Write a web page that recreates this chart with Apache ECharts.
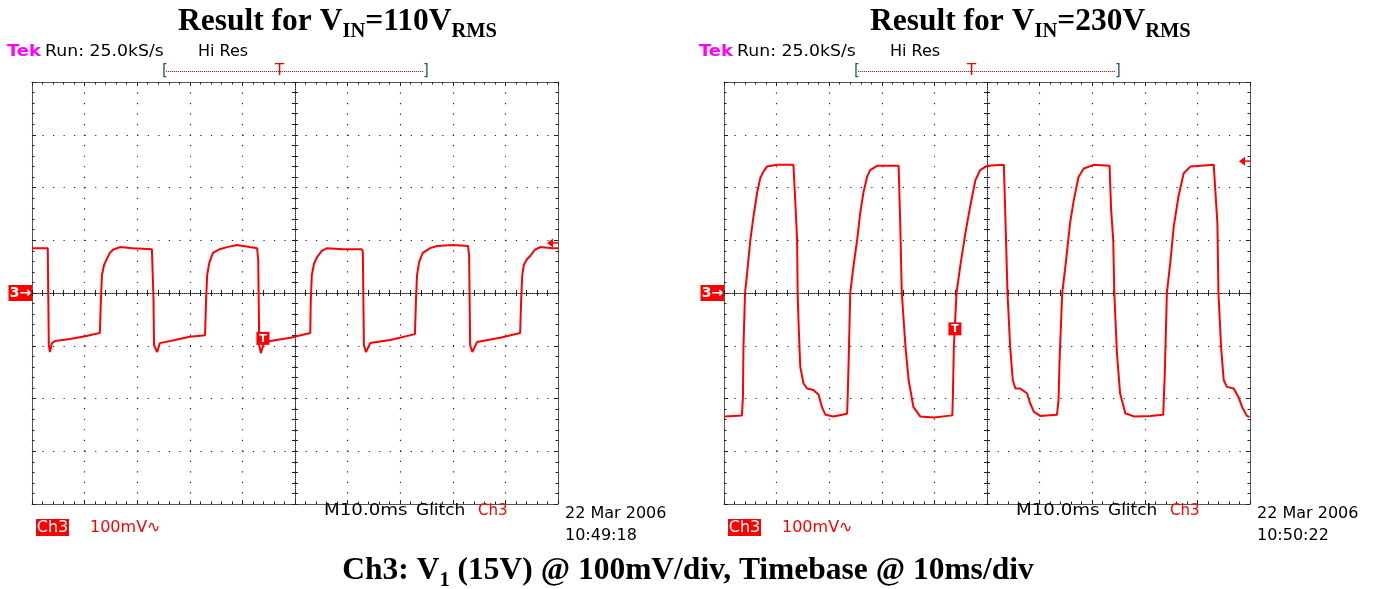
<!DOCTYPE html>
<html><head><meta charset="utf-8">
<script src="https://cdn.jsdelivr.net/npm/echarts@6/dist/echarts.min.js"></script>
<style>html,body{margin:0;padding:0;background:#fff}#c{width:1378px;height:589px}</style>
</head><body><div id="c"></div>
<script>
// ---- DATA (time in ms across the 10 divisions, Ch3 level in mV) ----
const wave110 = [[0,85],[3.0,85],[3.1,-13],[3.2,-99],[3.4,-112],[3.8,-95],[4.4,-91],[7.2,-87],[10.1,-82],[12.9,-76],
 [13.1,-13],[13.3,34],[13.7,53],[14.3,66],[14.8,76],[15.4,82],[16.7,87],[19.2,85],[22.8,83],[23.0,83],
 [23.1,-13],[23.2,-99],[23.8,-112],[24.3,-95],[27.2,-89],[30.0,-83],[32.9,-80],[33.1,-13],[33.3,34],[33.7,57],
 [34.4,76],[35.7,83],[37.1,87],[39.0,91],[41.4,87],[42.8,85],[43.0,63],[43.1,-13],[43.2,-99],[43.5,-114],
 [44.1,-95],[45.3,-91],[49.1,-85],[52.9,-76],[53.0,-13],[53.2,34],[53.6,55],[54.2,68],[55.1,80],[56.1,85],
 [59.1,83],[62.7,83],[62.9,78],[63.0,-13],[63.1,-99],[63.5,-112],[64.3,-95],[68.1,-89],[72.8,-78],[73.0,-13],
 [73.2,34],[73.6,59],[74.3,76],[75.7,85],[77.0,89],[80.0,91],[82.9,89],[83.1,72],[83.2,-13],[83.3,-99],
 [83.7,-112],[84.6,-93],[89.0,-85],[92.8,-76],[93.0,-13],[93.2,34],[93.5,53],[94.1,64],[94.7,70],[95.6,82],
 [96.6,87],[99.0,85],[100,85]];
const wave230 = [[0.1,-234],[3.4,-232],[3.6,-197],[3.7,-102],[4.0,0],[4.4,38],[5.0,100],[5.6,145],[6.3,190],[6.9,218],[7.5,230],[8.2,240],[10.1,243],[13.2,243],
 [13.6,164],[13.9,100],[14.0,0],[14.2,-64],[14.5,-140],[15.1,-171],[15.8,-181],[17.0,-184],[18.0,-193],[18.6,-216],[19.3,-231],[20.8,-234],[23.4,-229],
 [23.5,-203],[23.7,-127],[24.0,0],[24.6,50],[25.3,100],[25.9,152],[26.5,190],[27.2,220],[27.8,233],[29.1,241],[33.2,241],
 [33.5,133],[33.8,0],[34.5,-102],[35.1,-165],[36.0,-216],[37.3,-234],[39.9,-236],[43.4,-232],
 [43.5,-203],[43.7,-102],[44.2,0],[44.9,50],[45.9,114],[46.8,164],[47.8,214],[48.7,233],[50.0,241],[53.2,243],
 [53.4,176],[53.9,0],[54.4,-102],[54.9,-165],[55.4,-181],[56.3,-181],[57.6,-190],[58.2,-209],[58.9,-225],[60.1,-233],[63.3,-231],
 [63.6,-203],[63.8,-127],[64.3,0],[64.9,50],[65.8,133],[66.5,176],[67.4,220],[68.4,236],[70.3,243],[73.3,241],
 [73.6,157],[74.0,100],[74.2,0],[74.7,-114],[75.3,-190],[76.3,-228],[77.9,-234],[81.0,-233],[83.5,-231],
 [83.8,-152],[84.2,0],[84.9,63],[85.5,126],[86.4,183],[87.4,227],[88.7,240],[93.1,243],[93.4,241],
 [93.8,133],[94.0,0],[94.5,-102],[95.0,-165],[95.6,-178],[96.9,-181],[97.8,-197],[98.5,-216],[99.4,-233],[99.9,-235]];
const inputVoltages = ['110', '230'];
const dates = ['22 Mar 2006', '22 Mar 2006'];
const times = ['10:49:18', '10:50:22'];
const triggerLevels = [95, 250];          // mV, level arrow at right edge
const triggerPoints = [[43.9,-86],[43.9,-68]]; // T marker on the trace
const xRange = [0, 100], xStep = 10;      // 10 ms/div
const yRange = [-400, 400], yStep = 100;  // 100 mV/div
const captionText = ['Ch3: V', '1', ' (15V) @ 100mV/div, Timebase @ 10ms/div'];

// ---- LAYOUT ----
const GW = 526, GH = 422, GT = 82;
const gridLefts = [32, 724];
const RED = '#ff0000';
const DOT = '#222';
const MONO = '"DejaVu Sans", sans-serif';
const SERIF = '"Liberation Serif", "Times New Roman", serif';

function axisBase(gi, extra) {
  return Object.assign({
    type: 'value', gridIndex: gi, axisLabel: {show: false}, splitLine: {show: false},
    axisLine: {show: true, onZero: false, lineStyle: {color: '#555', width: 1}},
    axisTick: {show: true, inside: true, length: 4, lineStyle: {color: DOT}},
    minorTick: {show: true, splitNumber: 5, length: 2.5, lineStyle: {color: DOT}},
    silent: true
  }, extra);
}
const xAxes = [], yAxes = [], grids = [], series = [];
[wave110, wave230].forEach((wave, gi) => {
  grids.push({left: gridLefts[gi], top: GT, width: GW, height: GH, show: false});
  const xr = {min: xRange[0], max: xRange[1], interval: xStep};
  const yr = {min: yRange[0], max: yRange[1], interval: yStep};
  xAxes.push(
    axisBase(gi, Object.assign({position: 'bottom', splitLine: {show: true, lineStyle: {color: DOT, width: 1.2, type: [1.2, 9.32]}}}, xr)),
    axisBase(gi, Object.assign({position: 'top'}, xr)),
    axisBase(gi, Object.assign({position: 'bottom', offset: -GH / 2,
      axisLine: {show: true, onZero: false, lineStyle: {color: DOT, width: 1, type: [1, 1]}},
      axisTick: {show: true, inside: true, length: 3, lineStyle: {color: DOT}},
      minorTick: {show: true, splitNumber: 5, length: 3, lineStyle: {color: DOT}}}, xr)),
    axisBase(gi, Object.assign({position: 'bottom', offset: -GH / 2, axisLine: {show: false, onZero: false},
      axisTick: {show: true, inside: false, length: 3, lineStyle: {color: DOT}},
      minorTick: {show: true, splitNumber: 5, length: 3, lineStyle: {color: DOT}}}, xr))
  );
  yAxes.push(
    axisBase(gi, Object.assign({position: 'left', splitLine: {show: true, lineStyle: {color: DOT, width: 1.2, type: [1.2, 9.32]}}}, yr)),
    axisBase(gi, Object.assign({position: 'right'}, yr)),
    axisBase(gi, Object.assign({position: 'left', offset: -GW / 2,
      axisLine: {show: true, onZero: false, lineStyle: {color: DOT, width: 1, type: [1, 1]}},
      axisTick: {show: true, inside: true, length: 3, lineStyle: {color: DOT}},
      minorTick: {show: true, splitNumber: 5, length: 3, lineStyle: {color: DOT}}}, yr)),
    axisBase(gi, Object.assign({position: 'left', offset: -GW / 2, axisLine: {show: false, onZero: false},
      axisTick: {show: true, inside: false, length: 3, lineStyle: {color: DOT}},
      minorTick: {show: true, splitNumber: 5, length: 3, lineStyle: {color: DOT}}}, yr))
  );
  series.push({
    type: 'line', xAxisIndex: gi * 4, yAxisIndex: gi * 4, data: wave,
    showSymbol: false, symbol: 'none', animation: false, z: 10,
    lineStyle: {color: RED, width: 2}
  });
});

const chart = echarts.init(document.getElementById('c'), null, {renderer: 'canvas'});
chart.setOption({animation: false, backgroundColor: '#fff', grid: grids, xAxis: xAxes, yAxis: yAxes, series: series});

function px(gi, pt) {
  return chart.convertToPixel({xAxisIndex: gi * 4, yAxisIndex: gi * 4}, pt);
}
function txt(x, y, text, size, fill, sx, extra) {
  return Object.assign({type: 'text', x: x, y: y, z: 100, scaleX: sx || 1,
    style: {text: text, font: size + 'px ' + MONO, fill: fill, verticalAlign: 'middle'}}, extra || {});
}

const g = [];
gridLefts.forEach((gl, gi) => {
  const dx = gl - 32;
  // title
  g.push({type: 'text', x: 178 + dx, y: 2, z: 100, style: {
    text: '{a|Result for V}{s|IN}{a|=' + inputVoltages[gi] + 'V}{s|RMS}', verticalAlign: 'top',
    rich: {
      a: {fontFamily: SERIF, fontWeight: 'bold', fontSize: 31.5, lineHeight: 40, fill: '#000'},
      s: {fontFamily: SERIF, fontWeight: 'bold', fontSize: 20.5, lineHeight: 23, verticalAlign: 'bottom', fill: '#000'}
    }}});
  // header
  g.push(txt(7 + dx, 52, 'Tek', 16, '#ff00ff', 1.12, {style: {text: 'Tek', font: 'bold 16px ' + MONO, fill: '#ff00ff', verticalAlign: 'middle'}}));
  g.push(txt(45 + dx, 52, 'Run: 25.0kS/s', 16, '#000', 1.08));
  g.push(txt(198 + dx, 52, 'Hi Res', 16, '#000', 1.0));
  // record bracket
  g.push({type: 'line', z: 100, shape: {x1: 166 + dx, y1: 71.5, x2: 424 + dx, y2: 71.5}, style: {stroke: RED, lineWidth: 1, lineDash: [1, 1]}});
  g.push(txt(162 + dx, 71, '[', 15, '#1d5f63'));
  g.push(txt(423 + dx, 71, ']', 15, '#1d5f63'));
  g.push({type: 'text', x: 279.5 + dx, y: 71, z: 101, style: {text: 'T', font: '15px ' + MONO, fill: RED, align: 'center', verticalAlign: 'middle'}});
  // ground marker
  const zeroY = px(gi, [0, 0])[1];
  g.push({type: 'rect', z: 100, shape: {x: 8.5 + dx, y: zeroY - 8, width: 23.5, height: 16}, style: {fill: RED}});
  g.push({type: 'text', x: 20.5 + dx, y: zeroY, z: 101, style: {text: '3→', font: 'bold 14px ' + MONO, fill: '#fff', align: 'center', verticalAlign: 'middle'}});
  // trigger level arrow
  const ly = px(gi, [xRange[1], triggerLevels[gi]])[1];
  const rx = gl + GW;
  g.push({type: 'polygon', z: 100, shape: {points: [[rx - 11, ly], [rx - 5, ly - 4.5], [rx - 5, ly + 4.5]]}, style: {fill: RED}});
  g.push({type: 'line', z: 100, shape: {x1: rx - 6, y1: ly, x2: rx, y2: ly}, style: {stroke: RED, lineWidth: 1.5}});
  // trigger point marker
  const tp = px(gi, triggerPoints[gi]);
  g.push({type: 'rect', z: 100, shape: {x: tp[0] - 6.5, y: tp[1] - 6.5, width: 13, height: 13}, style: {fill: RED}});
  g.push({type: 'text', x: tp[0], y: tp[1] + 0.5, z: 101, style: {text: 'T', font: 'bold 11px ' + MONO, fill: '#fff', align: 'center', verticalAlign: 'middle'}});
  // bottom readouts
  g.push({type: 'rect', z: 100, shape: {x: 36 + dx, y: 519, width: 33, height: 17}, style: {fill: RED}});
  g.push({type: 'text', x: 52.5 + dx, y: 527.5, z: 101, style: {text: 'Ch3', font: '16px ' + MONO, fill: '#fff', align: 'center', verticalAlign: 'middle'}});
  g.push(txt(90 + dx, 527.5, '100mV∿', 16, RED, 1.0));
  g.push(txt(324 + dx, 511, 'M10.0ms', 16, '#000', 1.14));
  g.push(txt(416 + dx, 511, 'Glitch', 16, '#000', 1.06));
  g.push(txt(478 + dx, 511, 'Ch3', 16, RED, 0.94));
  g.push(txt(565 + dx, 514, dates[gi], 16, '#000', 1.0));
  g.push(txt(565 + dx, 536, times[gi], 16, '#000', 1.0));
});
// caption
g.push({type: 'text', x: 688, y: 551, z: 100, style: {
  text: '{a|' + captionText[0] + '}{s|' + captionText[1] + '}{a|' + captionText[2] + '}', align: 'center', verticalAlign: 'top',
  rich: {
    a: {fontFamily: SERIF, fontWeight: 'bold', fontSize: 31.5, lineHeight: 40, fill: '#000'},
    s: {fontFamily: SERIF, fontWeight: 'bold', fontSize: 20.5, lineHeight: 23, verticalAlign: 'bottom', fill: '#000'}
  }}});
chart.setOption({graphic: {elements: g}});
</script></body></html>
